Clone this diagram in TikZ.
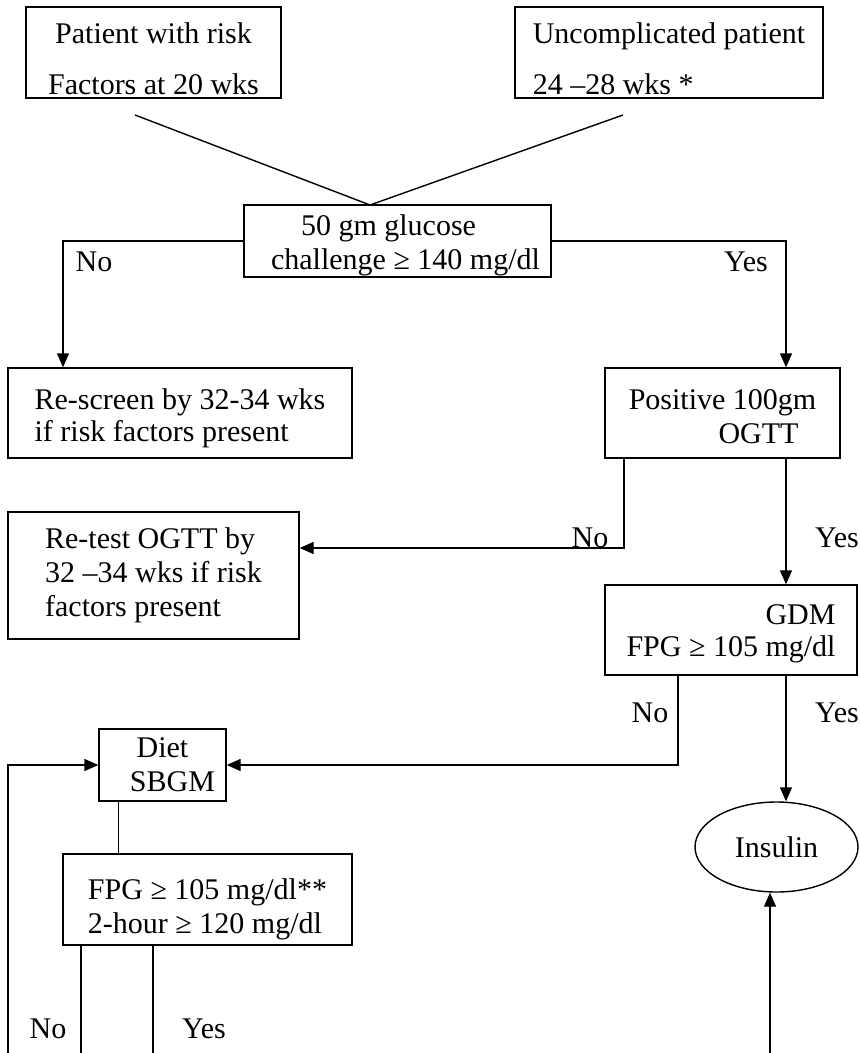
\documentclass[tikz,border=0pt]{standalone}
\usepackage{fontspec}
\setmainfont{Liberation Serif}
\usetikzlibrary{arrows.meta,shapes.geometric}

\newcommand*{\picw}{859}
\newcommand*{\pich}{1053}
\newcommand*{\boxdrop}[1]{\rule{0pt}{#1}}

\begin{document}
\begin{tikzpicture}
[
	x=0.5pt, y=-0.5pt,
	every node/.style={font=\fontsize{15}{17}\selectfont},
	box/.style={draw,line width=0.7pt,align=left,inner sep=0pt},
	oval/.style={ellipse,draw,line width=0.7pt,inner sep=0pt},
	tight/.style={font=\fontsize{15}{16}\selectfont},
	link/.style={line width=0.7pt},
	arr/.style={link,-{Triangle[length=7pt,width=6pt]}},
	lbl/.style={inner sep=0pt}
]

	\useasboundingbox (0,0) rectangle (\picw,\pich);

	% boxes
	\node[box,align=center,minimum width=127.5pt,minimum height=45.5pt] at (153.5,52.5) (risk) {\boxdrop{16.5pt}Patient with risk\\[8.5pt]Factors at 20 wks};
	\node[box,minimum width=154pt,minimum height=45.5pt] at (669,52.5) (uncomp) {\boxdrop{16.5pt}Uncomplicated patient\\[8.5pt]24 –28 wks *};
	\node[box,minimum width=153.5pt,minimum height=36pt] at (397.5,241) (gct) {\boxdrop{14.5pt}\hspace*{23pt}50 gm glucose\\\hspace*{8pt}challenge ≥ 140 mg/dl};
	\node[box,tight,minimum width=172pt,minimum height=45pt] at (180,413) (rescreen) {\boxdrop{16pt}Re-screen by 32-34 wks\\if risk factors present};
	\node[box,align=center,minimum width=117.5pt,minimum height=45pt] at (722.5,413) (ogtt) {\boxdrop{14pt}Positive 100gm\\\hspace*{36pt}OGTT};
	\node[box,minimum width=145.5pt,minimum height=63.5pt] at (153.5,575.5) (retest) {Re-test OGTT by\\32 –34 wks if risk\\factors present};
	\node[box,tight,align=right,minimum width=126pt,minimum height=45pt] at (731,630) (gdm) {\boxdrop{13.5pt}GDM\\FPG ≥ 105 mg/dl};
	\node[box,align=center,minimum width=63.5pt,minimum height=36pt] at (162.5,765) (diet) {Diet\\\hspace*{10pt}SBGM};
	\node[box,minimum width=144.5pt,minimum height=45.5pt] at (207.5,899.5) (fpg) {\boxdrop{20.5pt}FPG ≥ 105 mg/dl**\\2-hour ≥ 120 mg/dl};
	\node[oval,minimum width=81.5pt,minimum height=45pt] at (776.5,847) (insulin) {Insulin};

	% bends and loose ends
	\coordinate (riskend) at (135,115);
	\coordinate (uncompend) at (623,115);
	\coordinate (meet) at (370,205);
	\coordinate (gctno) at (63,241);
	\coordinate (gctyes) at (786,241);
	\coordinate (ogttno) at (624,548);
	\coordinate (gdmno) at (678,765);
	\coordinate (loop) at (8,\pich);
	\coordinate (fpgno) at (81,\pich);
	\coordinate (fpgyes) at (153,\pich);
	\coordinate (insend) at (770,\pich);

	% connectors
	\draw[link] (riskend) -- (meet) -- (uncompend);
	\draw[arr] (gct.west) -- (gctno) -- (gctno |- rescreen.north);
	\draw[arr] (gct.east) -- (gctyes) -- (gctyes |- ogtt.north);
	\draw[arr] (ogttno |- ogtt.south) -- (ogttno) -- (ogttno -| retest.east);
	\draw[arr] (gctyes |- ogtt.south) -- (gctyes |- gdm.north);
	\draw[arr] (gdmno |- gdm.south) -- (gdmno) -- (diet.east);
	\draw[arr] (gctyes |- gdm.south) -- (gctyes |- insulin.north);
	\draw[arr] (loop) |- (diet.west);
	\draw[line width=0.4pt] ([xshift=-22pt]diet.south) -- ([xshift=-22pt]diet.south |- fpg.north);
	\draw[link] (fpgno |- fpg.south) -- (fpgno);
	\draw[link] (fpgyes |- fpg.south) -- (fpgyes);
	\draw[arr] (insend) -- (insend |- insulin.south);

	% labels
	\node[lbl] at (94,262) (l1) {No};
	\node[lbl] at (746,262) (l2) {Yes};
	\node[lbl] at (590,538) (l3) {No};
	\node[lbl] at (837,538) (l4) {Yes};
	\node[lbl] at (650,713) (l5) {No};
	\node[lbl] at (837,713) (l6) {Yes};
	\node[lbl] at (48,1029) (l7) {No};
	\node[lbl] at (204,1029) (l8) {Yes};

\end{tikzpicture}
\end{document}
